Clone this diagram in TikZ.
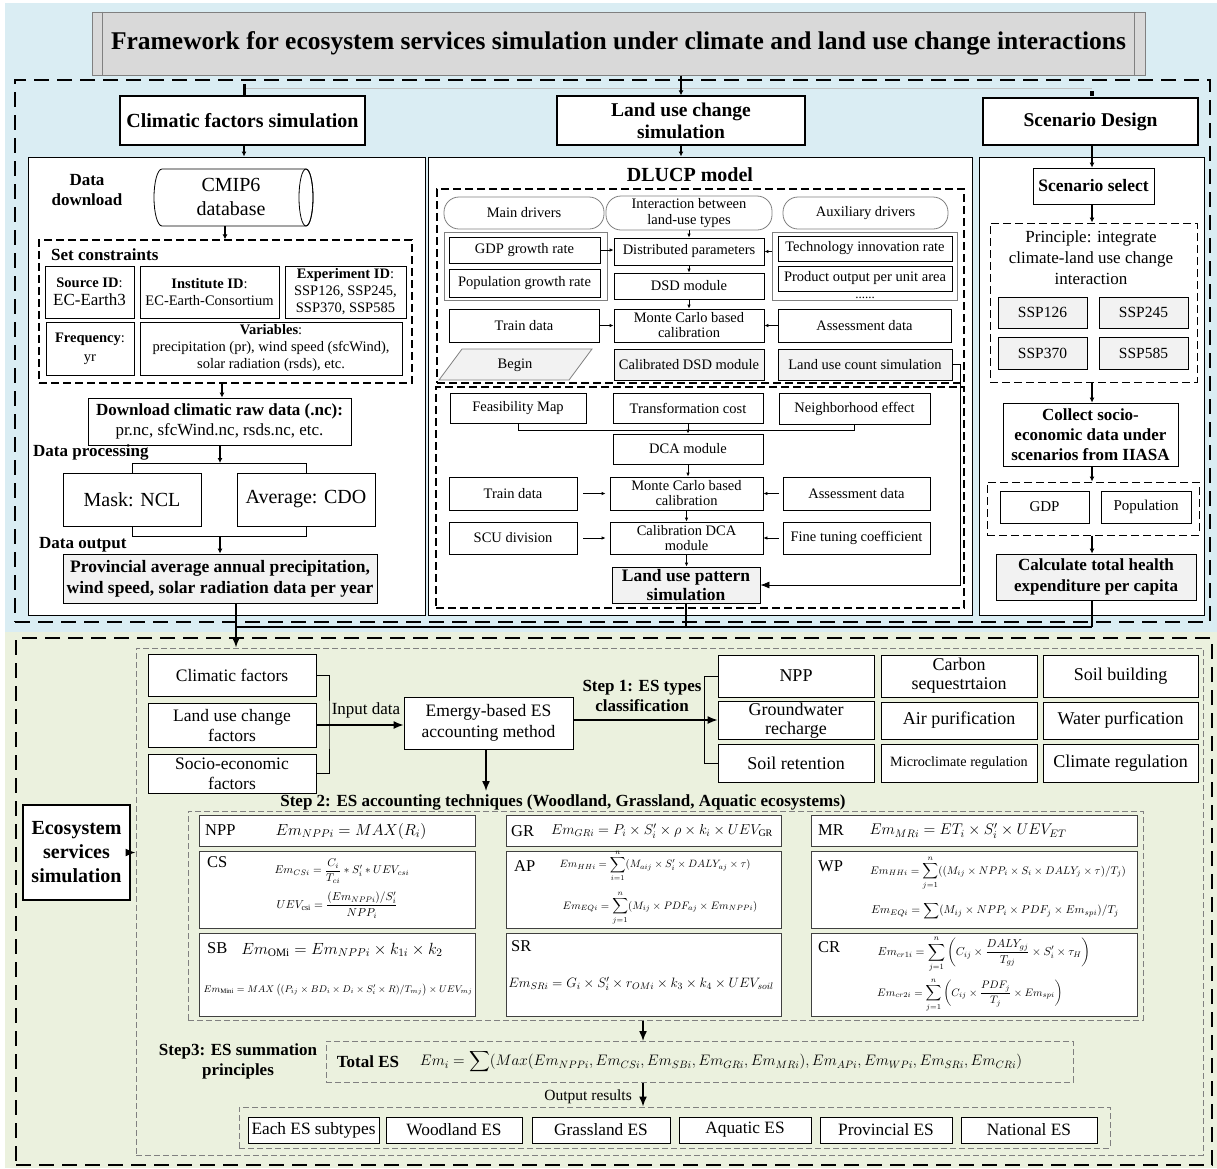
\RequirePackage{fix-cm}
\documentclass[tikz,border=0pt]{standalone}
\usepackage{amsmath}
\usepackage{fontspec}
\setmainfont{Liberation Serif}
\usetikzlibrary{arrows.meta,shapes.geometric,calc}
\definecolor{bgblue}{HTML}{DAEDF3}
\definecolor{bggreen}{HTML}{EBF1DE}
\definecolor{tgray}{HTML}{D9D9D9}
\definecolor{lgray}{HTML}{F2F2F2}
\definecolor{dgray}{HTML}{808080}
\newcommand{\fs}[2]{\fontsize{#1}{#2}\selectfont}
\newcommand{\mybox}[7][]{\node[bx,#1,minimum width={(#5)-(#3)},minimum height={(#6)-(#4)}] (#2) at ({((#3)+(#5))/2},{((#4)+(#6))/2}) {#7};}
\tikzset{
 bx/.style={draw, line width=0.8pt, fill=white, inner sep=1pt, align=center, font=\fs{14.5}{16}},
 gbx/.style={bx, fill=lgray},
 hdr/.style={bx, line width=1.3pt, font=\bfseries\fs{20}{22}},
 dbox/.style={fill=none, draw, dash pattern=on 8pt off 4pt, line width=1.3pt},
 tdash/.style={fill=none, draw=dgray, dash pattern=on 6pt off 3pt, line width=1pt},
 bigdash/.style={fill=none, draw, dash pattern=on 15pt off 8pt, line width=2.2pt},
 stad/.style={bx, rounded corners=15pt, draw=dgray, font=\fs{14.5}{15.5}},
 arr/.style={-{Latex[length=5pt,width=5pt]}, line width=2pt},
 arrL/.style={-{Latex[length=10pt,width=8pt]}, line width=1.5pt},
 sarr/.style={-{Latex[length=4pt,width=3.5pt]}, line width=0.8pt},
 ln/.style={line width=0.8pt},
 lab/.style={font=\bfseries\fs{17}{20}, align=center, inner sep=0pt},
 fbx/.style={bx, draw=black!75},
 flab/.style={anchor=west, font=\fs{16.5}{19}, inner sep=0pt},
 fm/.style={inner sep=0pt},
}
\begin{document}
\begin{tikzpicture}[x=1pt,y=-1pt]
\useasboundingbox (0,0) rectangle (1217,1168);
% backgrounds
\fill[bgblue] (5,3) rectangle (1217,632);
\fill[bggreen] (5,632) rectangle (1217,1168);

% ---------------- top section ----------------
\mybox[fill=tgray,draw=gray,line width=1pt,font=\bfseries\fs{25.5}{28}]{title}{92}{12}{1145}{75}{Framework for ecosystem services simulation under climate and land use change interactions}
\draw[gray,line width=0.8pt] ([xshift=11pt]title.north west) -- ([xshift=11pt]title.south west);
\draw[gray,line width=0.8pt] ([xshift=-11pt]title.north east) -- ([xshift=-11pt]title.south east);

\mybox[bigdash]{topframe}{15}{80}{1210}{622}{}

\mybox[hdr]{h1}{120}{96}{365}{145}{Climatic factors simulation}
\mybox[hdr,font=\bfseries\fs{19.5}{22}]{h2}{557}{96}{805}{145}{Land use change\\simulation}
\mybox[hdr,font=\bfseries\fs{19.5}{22}]{h3}{983}{98}{1198}{145}{Scenario Design}

\coordinate (jl) at (244,88);
\coordinate (jr) at (1092,88);
\draw[black!25,line width=0.8pt] (jl) -- (jr);
\draw[line width=3pt] (jl) ++(0,-4) -- (h1.north -| jl);
\draw[line width=3.5pt] (1092,91) -- (1092,96);
\draw[arr] (h2.north |- title.south) -- (h2.north);

% panels
\mybox[line width=1pt]{p1}{28}{157}{425}{615}{}
\mybox[line width=1pt]{p2}{428}{157}{972}{615}{}
\mybox[line width=1pt]{p3}{979}{157}{1204}{615}{}
\draw[arr] (h1.south -| jl) -- (p1.north -| jl);
\draw[arr] (h2.south) -- (p2.north -| h2.south);

% ---- left panel ----
\node[lab,font=\bfseries\fs{17}{20}] (dd) at (87,190) {Data\\download};
\draw[line width=0.8pt,fill=white] (162,169) -- (306,169) arc[start angle=-90,end angle=90,x radius=7,y radius=28.5] -- (162,226) arc[start angle=90,end angle=270,x radius=8,y radius=28.5] -- cycle;
\draw[line width=0.8pt] (306,197.5) ellipse[x radius=7,y radius=28.5];
\node[align=center,font=\fs{20}{24},inner sep=0pt] (cmip) at (231,197) {CMIP6\\database};
\coordinate (cylb) at (225,226);
\mybox[dbox]{sc}{39}{240}{412}{383}{}
\draw[arr] (cylb) -- (sc.north -| cylb);
\node[lab,anchor=west] (sclab) at (51,255) {Set constraints};
\mybox[font=\fs{14.5}{17}]{src}{45}{266}{134}{318}{\textbf{Source ID}:\\[1pt]{\fs{17}{19}EC-Earth3}}
\mybox[font=\fs{14.5}{17}]{inst}{140}{266}{279}{318}{\textbf{Institute ID}:\\EC-Earth-Consortium}
\mybox[font=\fs{14.5}{17}]{expid}{285}{266}{406}{318}{\textbf{Experiment ID}:\\SSP126, SSP245,\\SSP370, SSP585}
\mybox[font=\fs{14.5}{19}]{freq}{46}{322}{134}{375}{\textbf{Frequency}:\\yr}
\mybox[font=\fs{14.5}{17}]{vars}{140}{322}{402}{375}{\textbf{Variables}:\\precipitation (pr), wind speed (sfcWind),\\solar radiation (rsds), etc.}
\mybox[font=\fs{17}{20}]{dl}{88}{398}{351}{445}{\textbf{Download climatic raw data (.nc):}\\pr.nc, sfcWind.nc, rsds.nc, etc.}
\draw[arr] (sc.south -| 222,0) -- (dl.north -| 222,0);
\node[lab,anchor=west] (dp) at (33,452) {Data processing};
\coordinate (sp) at (220,463);
\draw[arr] (dl.south -| sp) -- (sp);
\mybox[font=\fs{20}{23}]{mask}{63}{473}{201}{526}{Mask: NCL}
\mybox[font=\fs{20}{23}]{avg}{237}{473}{375}{526}{Average: CDO}
\draw[ln] (mask.north) |- (sp) -| (avg.north);
\coordinate (mg) at (220,536);
\draw[ln] (mask.south) |- (mg) -| (avg.south);
\node[lab,anchor=west] (dout) at (39,545) {Data output};
\mybox[gbx,font=\bfseries\fs{17.5}{21}]{outp}{63}{554}{377}{603}{Provincial average annual precipitation,\\wind speed, solar radiation data per year}
\draw[arr] (mg) -- (outp.north -| mg);

% ---- middle panel ----
\node[lab,font=\bfseries\fs{20}{22}] (dlucp) at (690,175) {DLUCP model};
\mybox[dbox]{ud}{437}{189}{964}{383}{}
\mybox[stad]{md}{444}{197}{604}{229}{Main drivers}
\mybox[stad]{inter}{606}{196}{772}{230}{Interaction between\\land-use types}
\mybox[stad]{aux}{783}{197}{948}{229}{Auxiliary drivers}
\mybox[fill=none,draw=dgray]{gl}{444}{232}{607}{300}{}
\mybox[fill=none,draw=dgray]{gr}{772}{232}{957}{300}{}
\mybox{gdp}{449}{237}{600}{263}{GDP growth rate}
\mybox{pop}{449}{269}{600}{297}{Population growth rate}
\mybox{tech}{778}{236}{952}{261}{Technology innovation rate}
\mybox{prod}{778}{266}{952}{291}{Product output per unit area}
\node[font=\fs{13}{14},inner sep=0pt,anchor=base] (dots) at (865,298) {......};
\mybox{dist}{614}{238}{764}{265}{Distributed parameters}
\mybox{dsd}{614}{273}{764}{299}{DSD module}
\mybox{tr1}{449}{309}{599}{342}{Train data}
\mybox[font=\fs{14.5}{15}]{mc1}{614}{309}{764}{342}{Monte Carlo based\\calibration}
\mybox{as1}{778}{309}{951}{342}{Assessment data}
\draw[draw=dgray,fill=lgray,line width=0.8pt] (439,380) -- (462,349) -- (592,349) -- (569,380) -- cycle;
\node[font=\fs{14.5}{16}] (begin) at (515,365) {Begin};
\mybox[gbx]{cdsd}{614}{349}{764}{380}{Calibrated DSD module}
\mybox[gbx]{luc}{778}{349}{952}{380}{Land use count simulation}
\draw[sarr] (inter.south) -- (dist.north -| inter.south);
\draw[sarr] (gdp.east) -- (gdp.east -| dist.west);
\draw[sarr] (gr.west |- dist.east) -- (dist.east);
\draw[sarr] (dist.south) -- (dsd.north);
\draw[sarr] (dsd.south) -- (mc1.north);
\draw[sarr] (tr1.east) -- (mc1.west |- tr1.east);
\draw[sarr] (as1.west) -- (mc1.east |- as1.west);

\mybox[dbox]{ld}{436}{387}{964}{608}{}
\mybox{feas}{450}{393}{586}{423}{Feasibility Map}
\mybox{trc}{613}{393}{763}{423}{Transformation cost}
\mybox{nbh}{779}{393}{930}{424}{Neighborhood effect}
\mybox{dca}{613}{434}{763}{464}{DCA module}
\coordinate (dcaj) at (688,430);
\draw[ln] (feas.south) |- (dcaj) -| (nbh.south);
\draw[sarr] (trc.south) -- (dca.north);
\mybox{tr2}{449}{477}{577}{510}{Train data}
\mybox[font=\fs{14.5}{15}]{mc2}{610}{477}{763}{510}{Monte Carlo based\\calibration}
\mybox{as2}{783}{477}{930}{510}{Assessment data}
\mybox{scu}{449}{522}{577}{554}{SCU division}
\mybox[font=\fs{14.5}{15}]{cdca}{610}{522}{763}{554}{Calibration DCA\\module}
\mybox{ftc}{783}{522}{930}{554}{Fine tuning coefficient}
\mybox[gbx,font=\bfseries\fs{17.5}{19}]{lup}{612}{567}{760}{603}{Land use pattern\\simulation}
\draw[sarr] ([xshift=6pt]tr2.east) -- ([xshift=-4pt]mc2.west);
\draw[sarr] ([xshift=-4pt]as2.west) -- (mc2.east);
\draw[sarr] ([xshift=6pt]scu.east) -- ([xshift=-4pt]cdca.west);
\draw[sarr] ([xshift=-4pt]ftc.west) -- (cdca.east);
\draw[sarr] (dca.south) -- (mc2.north -| dca.south);
\draw[sarr] (mc2.south) -- (cdca.north);
\draw[sarr] (cdca.south) -- (lup.north -| cdca.south);
\draw[ln,-{Latex[length=9pt,width=7pt]}] (luc.east) -- ++(8,0) |- (lup.east);

% ---- right panel ----
\mybox[font=\bfseries\fs{17.5}{19}]{sel}{1033}{168}{1154}{204}{Scenario select}
\mybox[dbox,line width=1pt]{prin}{990}{223}{1197}{382}{}
\node[font=\fs{17}{21},align=center,inner sep=0pt] (ptxt) at (1091,258) {Principle: integrate\\climate-land use change\\interaction};
\mybox[gbx,font=\fs{15.5}{17}]{s126}{998}{297}{1087}{328}{SSP126}
\mybox[gbx,font=\fs{15.5}{17}]{s245}{1099}{297}{1188}{328}{SSP245}
\mybox[gbx,font=\fs{15.5}{17}]{s370}{998}{337}{1087}{369}{SSP370}
\mybox[gbx,font=\fs{15.5}{17}]{s585}{1099}{337}{1188}{369}{SSP585}
\mybox[font=\bfseries\fs{17}{20}]{coll}{1003}{403}{1178}{466}{Collect socio-\\economic data under\\scenarios from IIASA}
\mybox[dbox,line width=1pt]{gp}{987}{482}{1199}{535}{}
\mybox[font=\fs{15}{17}]{gdp2}{1000}{491}{1089}{523}{GDP}
\mybox[font=\fs{15}{17}]{pop2}{1101}{491}{1191}{523}{Population}
\mybox[gbx,font=\bfseries\fs{17}{21}]{hlth}{996}{554}{1196}{600}{Calculate total health\\expenditure per capita}
\draw[arr] (h3.south -| jr) -- (sel.north -| jr);
\draw[arr] (sel.south -| jr) -- (prin.north -| jr);
\draw[arr] (prin.south -| jr) -- (coll.north -| jr);
\draw[arr] (coll.south -| jr) -- (gp.north -| jr);
\draw[arr] (gp.south -| jr) -- (hlth.north -| jr);

% collector
\coordinate (cl) at (236,627);
\coordinate (cr) at (1092,627);
\draw[ln,line width=1.2pt] (cl) -- (cr);
\draw[ln,line width=1.2pt] (lup.south) -- (lup.south |- cl);
\draw[ln,line width=1.2pt] (hlth.south -| cr) -- (cr);

% ---------------- green section ----------------
\mybox[bigdash]{gout}{16}{638}{1212}{1165}{}
\mybox[tdash]{gin}{136}{648}{1203}{1155}{}
\draw[arrL] (outp.south -| cl) -- (gin.north -| cl);

\mybox[hdr,font=\bfseries\fs{20}{24}]{ess}{23}{805}{130}{900}{Ecosystem\\services\\simulation}
\draw[arrL] (ess.east) -- (ess.east -| gin.west);

\mybox[font=\fs{17.5}{20}]{cf}{148}{654}{316}{696}{Climatic factors}
\mybox[font=\fs{17.5}{20}]{luf}{148}{703}{316}{747}{Land use change\\factors}
\mybox[font=\fs{17.5}{20}]{sef}{148}{754}{316}{793}{Socio-economic\\factors}
\coordinate (bj) at (329,725);
\draw[ln] (cf.east) -| (bj) |- (sef.east);
\mybox[font=\fs{17.5}{21}]{em}{404}{697}{573}{749}{Emergy-based ES\\accounting method}
\draw[arrL] (luf.east) -- (luf.east -| em.west);
\node[font=\fs{17}{19},inner sep=0pt] (inlab) at (366,710) {Input data};
\coordinate (s2t) at (486,791);
\draw[arrL] (em.south -| s2t) -- (s2t);
\node[lab,font=\bfseries\fs{17}{20}] (s1) at (642,696) {Step 1: ES types\\classification};

\mybox[font=\fs{18}{19}]{npp}{718}{655}{874}{697}{NPP}
\mybox[font=\fs{18}{19}]{csq}{881}{655}{1037}{697}{Carbon\\sequestrtaion}
\mybox[font=\fs{18}{19}]{sbd}{1043}{655}{1198}{697}{Soil building}
\mybox[font=\fs{18}{19}]{gw}{718}{702}{874}{739}{Groundwater\\recharge}
\mybox[font=\fs{18}{19}]{apf}{881}{702}{1037}{739}{Air purification}
\mybox[font=\fs{18}{19}]{wpf}{1043}{702}{1198}{739}{Water purfication}
\mybox[font=\fs{18}{19}]{srt}{718}{744}{874}{782}{Soil retention}
\mybox[font=\fs{14.2}{16}]{mcr}{881}{744}{1037}{782}{Microclimate regulation}
\mybox[font=\fs{18}{19}]{clr}{1043}{744}{1198}{782}{Climate regulation}
\coordinate (rb) at (704,720);
\draw[ln] (npp.west) -| (rb) |- (srt.west);
\draw[arrL] (em.east |- rb) -- (gw.west |- rb);

\node[lab] (s2) at (563,802) {Step 2: ES accounting techniques (Woodland, Grassland, Aquatic ecosystems)};
\mybox[tdash]{fb}{188}{811}{1143}{1020}{}

% formula boxes
\mybox[fbx]{fnpp}{199}{815}{475}{846}{}
\mybox[fbx]{fcs}{199}{851}{475}{928}{}
\mybox[fbx]{fsb}{199}{933}{475}{1016}{}
\mybox[fbx]{fgr}{506}{815}{781}{846}{}
\mybox[fbx]{fap}{506}{851}{781}{928}{}
\mybox[fbx]{fsr}{506}{933}{781}{1016}{}
\mybox[fbx]{fmr}{811}{815}{1137}{846}{}
\mybox[fbx]{fwp}{811}{851}{1137}{928}{}
\mybox[fbx]{fcr}{811}{933}{1137}{1016}{}

\node[flab] (lnpp) at (205,830) {NPP};
\node[fm,font=\fs{16}{18}] (enpp) at (351,831) {$Em_{NPPi}=MAX(R_i)$};
\node[flab] (lcs) at (207,862) {CS};
\node[fm,font=\fs{11.2}{12}] (ecs1) at (342,871) {$Em_{CSi}=\dfrac{C_i}{T_{ci}}*S_i'*UEV_{csi}$};
\node[fm,font=\fs{11.5}{12}] (ecs2) at (337,905) {$UEV_{\mathrm{csi}}=\dfrac{(Em_{NPPi})/S_i'}{NPP_i}$};
\node[flab] (lsb) at (207,948) {SB};
\node[fm,font=\fs{16.2}{18}] (esb1) at (342,950) {$Em_{\mathrm{OMi}}=Em_{NPPi}\times k_{1i}\times k_2$};
\node[fm,font=\fs{9.7}{11}] (esb2) at (338,990) {$Em_{\mathrm{Mini}}=MAX\left((P_{ij}\times BD_i\times D_i\times S_i'\times R)/T_{mj}\right)\times UEV_{mj}$};

\node[flab] (lgr) at (511,831) {GR};
\node[fm,font=\fs{14.4}{16}] (egr) at (662,831) {$Em_{GRi}=P_i\times S_i'\times\rho\times k_i\times UEV_{\mathrm{GR}}$};
\node[flab] (lap) at (514,866) {AP};
\node[fm,font=\fs{10.6}{12}] (eap1) at (655,866) {$Em_{HHi}=\displaystyle\sum_{i=1}^{n}(M_{aij}\times S_i'\times DALY_{aj}\times\tau)$};
\node[fm,font=\fs{10.8}{12}] (eap2) at (660,908) {$Em_{EQi}=\displaystyle\sum_{j=1}^{n}(M_{ij}\times PDF_{aj}\times Em_{NPPi})$};
\node[flab] (lsr) at (511,946) {SR};
\node[fm,font=\fs{13.6}{16}] (esr) at (641,984) {$Em_{SRi}=G_i\times S_i'\times r_{OMi}\times k_3\times k_4\times UEV_{soil}$};

\node[flab] (lmr) at (818,830) {MR};
\node[fm,font=\fs{15.5}{18}] (emr) at (968,831) {$Em_{MRi}=ET_i\times S_i'\times UEV_{ET}$};
\node[flab] (lwp) at (818,866) {WP};
\node[fm,font=\fs{11}{13}] (ewp1) at (998,873) {$Em_{HHi}=\displaystyle\sum_{j=1}^{n}((M_{ij}\times NPP_i\times S_i\times DALY_j\times\tau)/T_j)$};
\node[fm,font=\fs{11.4}{13}] (ewp2) at (995,911) {$Em_{EQi}=\displaystyle\sum(M_{ij}\times NPP_i\times PDF_j\times Em_{spi})/T_j$};
\node[flab] (lcr) at (818,947) {CR};
\node[fm,font=\fs{11.5}{12}] (ecr1) at (984,954) {$Em_{cr1i}=\displaystyle\sum_{j=1}^{n}\left(C_{ij}\times\frac{DALY_{gj}}{T_{gj}}\times S_i'\times\tau_H\right)$};
\node[fm,font=\fs{10.8}{12}] (ecr2) at (970,995) {$Em_{cr2i}=\displaystyle\sum_{j=1}^{n}\left(C_{ij}\times\frac{PDF_j}{T_j}\times Em_{spi}\right)$};

% step 3
\node[lab] (s3) at (238,1061) {Step3: ES summation\\principles};
\mybox[tdash]{tot}{326}{1041}{1073}{1082}{}
\node[lab] (totl) at (368,1062) {Total ES};
\node[fm,font=\fs{15.2}{17}] (totf) at (721,1062) {$Em_i=\displaystyle\sum(Max(Em_{NPPi},Em_{CSi},Em_{SBi},Em_{GRi},Em_{MRi}),Em_{APi},Em_{WPi},Em_{SRi},Em_{CRi})$};
\coordinate (ax3) at (643,1041);
\draw[arrL] (fb.south -| ax3) -- (ax3);
\node[font=\fs{15.5}{17},anchor=east,inner sep=0pt] (orl) at (632,1097) {Output results};
\mybox[tdash]{outbox}{239}{1107}{1110}{1148}{}
\draw[arrL] (tot.south -| ax3) -- (outbox.north -| ax3);
\mybox[font=\fs{17.3}{18}]{o1}{248}{1117}{379}{1143}{Each ES subtypes}
\mybox[font=\fs{17.3}{18}]{o2}{386}{1117}{522}{1143}{Woodland ES}
\mybox[font=\fs{17.3}{18}]{o3}{532}{1117}{670}{1143}{Grassland ES}
\mybox[font=\fs{17.3}{18}]{o4}{679}{1117}{811}{1143}{Aquatic ES}
\mybox[font=\fs{17.3}{18}]{o5}{820}{1117}{952}{1143}{Provincial ES}
\mybox[font=\fs{17.3}{18}]{o6}{961}{1117}{1097}{1143}{National ES}
\end{tikzpicture}
\end{document}
